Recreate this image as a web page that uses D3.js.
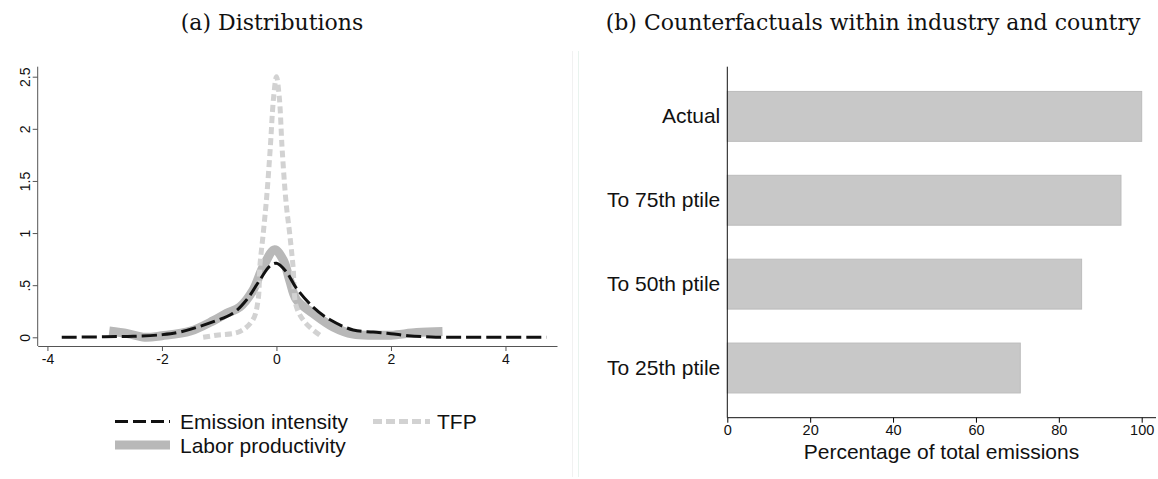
<!DOCTYPE html>
<html>
<head>
  <meta charset="UTF-8">
  <title>Distributions and counterfactuals</title>
  <script src="https://cdnjs.cloudflare.com/ajax/libs/d3/7.8.5/d3.min.js"></script>
<style type="text/css">
  body { margin: 0; background: #fff; }
  svg { display: block; }
  .title { font-family: "DejaVu Serif", serif; font-size: 22px; fill: #111; }
  .tick text { font-family: "Liberation Sans", Arial, sans-serif; fill: #111; }
  .lbl { font-family: "Liberation Sans", Arial, sans-serif; fill: #111; }
</style>
</head>
<body>
<svg id="chart" width="1158" height="479"></svg>
<script type="text/javascript">
// Panel (a): kernel densities
var emisX = [-3.75, -3.0, -2.5, -2.0, -1.69, -1.1, -0.76, -0.52, -0.29, -0.12, 0.0, 0.17, 0.35, 0.64, 0.93, 1.34, 1.69, 2.0, 2.3, 2.7, 3.2, 4.0, 4.72];
var emisY = [0.0, 0.005, 0.01, 0.025, 0.05, 0.15, 0.23, 0.36, 0.55, 0.68, 0.71, 0.63, 0.47, 0.29, 0.17, 0.07, 0.05, 0.035, 0.015, 0.003, 0.0, 0.0, 0.0];

var laborX = [-2.92, -2.6, -2.3, -2.0, -1.5, -1.1, -0.87, -0.64, -0.41, -0.23, -0.03, 0.12, 0.23, 0.35, 0.64, 0.99, 1.34, 1.7, 2.0, 2.45, 2.9];
var laborY = [0.06, 0.035, 0.0, 0.015, 0.06, 0.16, 0.23, 0.29, 0.45, 0.68, 0.84, 0.74, 0.55, 0.36, 0.23, 0.10, 0.03, 0.02, 0.02, 0.045, 0.055];

var tfpX = [-1.28, -1.05, -0.64, -0.41, -0.32, -0.29, -0.23, -0.17, -0.11, -0.05, 0.0, 0.05, 0.1, 0.17, 0.23, 0.29, 0.35, 0.52, 0.81];
var tfpY = [0.0, 0.02, 0.055, 0.17, 0.36, 0.68, 1.0, 1.35, 1.8, 2.3, 2.5, 2.3, 1.8, 1.28, 1.0, 0.68, 0.29, 0.13, 0.0];

var distTicksX = [-4, -2, 0, 2, 4];
var distTicksY = [0, 0.5, 1, 1.5, 2, 2.5];
var distTickLabelsY = ["0", ".5", "1", "1.5", "2", "2.5"];

// Panel (b): counterfactual bars
var cfCategories = ["Actual", "To 75th ptile", "To 50th ptile", "To 25th ptile"];
var cfValues = [100, 95, 85.5, 70.7];
var cfTicks = [0, 20, 40, 60, 80, 100];

var svg = d3.select("#chart");

// faint panel separators
svg.append("line").attr("x1", 572.5).attr("x2", 572.5).attr("y1", 51).attr("y2", 477)
  .attr("stroke", "#f1f1f1").attr("stroke-width", 1);
svg.append("line").attr("x1", 578.5).attr("x2", 578.5).attr("y1", 51).attr("y2", 477)
  .attr("stroke", "#e9f3ee").attr("stroke-width", 1);

// ---------- panel (a) ----------
svg.append("text").attr("class", "title").attr("x", 272).attr("y", 30)
  .attr("text-anchor", "middle").text("(a) Distributions");

var x = d3.scaleLinear().domain([-4.17, 4.9]).range([37.7, 557]);
var y = d3.scaleLinear().domain([0, 2.5]).range([337.3, 76.7]);

var xAxisA = d3.axisBottom(x).tickValues(distTicksX).tickSize(5).tickSizeOuter(0)
  .tickFormat(function (d) { return d; });
var gx = svg.append("g").attr("transform", "translate(0,346)").call(xAxisA);
gx.select(".domain").attr("stroke", "#555");
gx.selectAll(".tick line").attr("stroke", "#555");
gx.selectAll(".tick text").style("font-size", "14px").attr("y", 8).attr("dy", "0.71em")
  .text(function (d) { return d < 0 ? "-" + Math.abs(d) : d; });

var yAxisA = d3.axisLeft(y).tickValues(distTicksY).tickSize(5).tickSizeOuter(0)
  .tickFormat(function (d, i) { return distTickLabelsY[i]; });
var gy = svg.append("g").attr("transform", "translate(37.7,0)").call(yAxisA);
gy.select(".domain").attr("d", "M0," + 66.7 + "V" + 346).attr("stroke", "#555");
gy.selectAll(".tick line").attr("stroke", "#555");
gy.selectAll(".tick text").style("font-size", "14px")
  .attr("x", 0).attr("dy", 0)
  .attr("text-anchor", "middle")
  .attr("transform", "translate(-13,0) rotate(-90)")
  .attr("dominant-baseline", "central");

var line = d3.line()
  .x(function (d) { return x(d[0]); })
  .y(function (d) { return y(d[1]); })
  .curve(d3.curveCatmullRom.alpha(0.5));

var laborPts = d3.zip(laborX, laborY);
var tfpPts = d3.zip(tfpX, tfpY);
var emisPts = d3.zip(emisX, emisY);

svg.append("path").attr("d", line(laborPts)).attr("fill", "none")
  .attr("stroke", "#b8b8b8").attr("stroke-width", 9);
svg.append("path").attr("d", line(tfpPts)).attr("fill", "none")
  .attr("stroke", "#d2d2d2").attr("stroke-width", 5).attr("stroke-dasharray", "7,4");
svg.append("path").attr("d", line(emisPts)).attr("fill", "none")
  .attr("stroke", "#111").attr("stroke-width", 3).attr("stroke-dasharray", "15,5");

// legend
var leg = svg.append("g");
leg.append("line").attr("x1", 115).attr("x2", 170).attr("y1", 421.5).attr("y2", 421.5)
  .attr("stroke", "#111").attr("stroke-width", 3).attr("stroke-dasharray", "13,5");
leg.append("text").attr("class", "lbl").attr("x", 180).attr("y", 429).attr("font-size", "21px")
  .text("Emission intensity");
leg.append("line").attr("x1", 373).attr("x2", 430).attr("y1", 421.5).attr("y2", 421.5)
  .attr("stroke", "#d2d2d2").attr("stroke-width", 5).attr("stroke-dasharray", "9,4");
leg.append("text").attr("class", "lbl").attr("x", 437).attr("y", 429).attr("font-size", "21px")
  .text("TFP");
leg.append("line").attr("x1", 115).attr("x2", 170).attr("y1", 445).attr("y2", 445)
  .attr("stroke", "#b8b8b8").attr("stroke-width", 9);
leg.append("text").attr("class", "lbl").attr("x", 180).attr("y", 452.5).attr("font-size", "21px")
  .text("Labor productivity");

// ---------- panel (b) ----------
svg.append("text").attr("class", "title").attr("x", 873).attr("y", 30)
  .attr("text-anchor", "middle").text("(b) Counterfactuals within industry and country");

var xb = d3.scaleLinear().domain([0, 100]).range([727.3, 1141.7]);
var yb = d3.scaleBand().domain(cfCategories).range([66.7, 417.7])
  .paddingInner(0.405).paddingOuter(0.295);

svg.selectAll(".bar").data(cfCategories).enter().append("rect")
  .attr("class", "bar")
  .attr("x", xb(0))
  .attr("y", function (d) { return yb(d); })
  .attr("width", function (d, i) { return xb(cfValues[i]) - xb(0); })
  .attr("height", yb.bandwidth())
  .attr("fill", "#c8c8c8")
  .attr("stroke", "#bcbcbc")
  .attr("stroke-width", 1);

var xAxisB = d3.axisBottom(xb).tickValues(cfTicks).tickSize(5).tickSizeOuter(0);
var gxb = svg.append("g").attr("transform", "translate(0,417.7)").call(xAxisB);
gxb.select(".domain").attr("d", "M727.3,0H1156").attr("stroke", "#111");
gxb.selectAll(".tick text").style("font-size", "14.5px").attr("y", 7).attr("dy", "0.71em");

var yAxisB = d3.axisLeft(yb).tickSize(0).tickPadding(7);
var gyb = svg.append("g").attr("transform", "translate(727.3,0)").call(yAxisB);
gyb.select(".domain").attr("d", "M0,66.7V417.7").attr("stroke", "#111");
gyb.selectAll(".tick text").style("font-size", "21px");

svg.append("text").attr("class", "lbl").attr("x", 941.5).attr("y", 459)
  .attr("text-anchor", "middle").attr("font-size", "21px")
  .text("Percentage of total emissions");
</script>
</body>
</html>
